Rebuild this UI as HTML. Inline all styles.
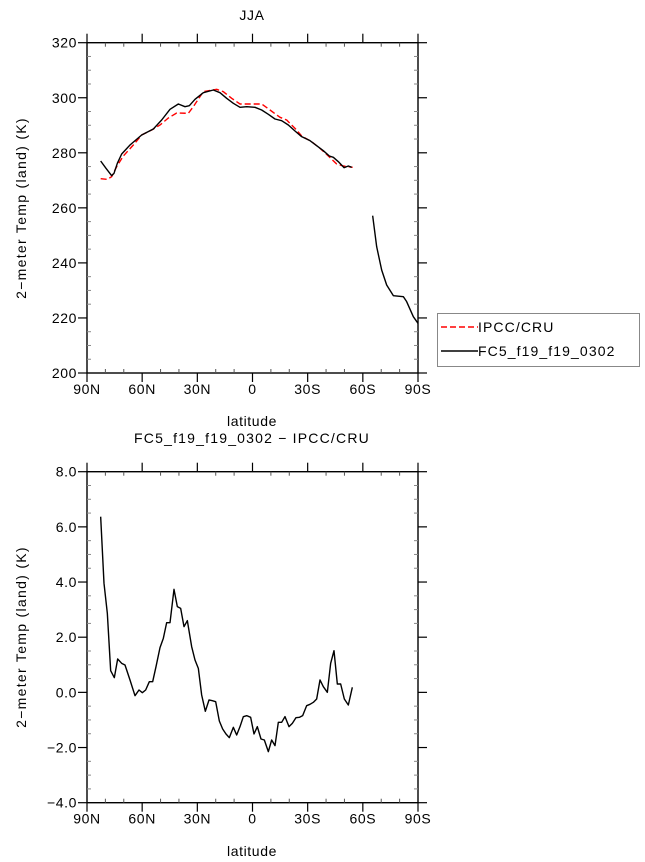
<!DOCTYPE html>
<html><head><meta charset="utf-8"><style>
body{margin:0;background:#fff}
svg{display:block}
text{font-family:"Liberation Sans",sans-serif;font-size:14px;fill:#000;letter-spacing:0.6px}
</style></head><body>
<svg id="s" width="645" height="862" xmlns="http://www.w3.org/2000/svg">
<text x="252" y="20" text-anchor="middle" font-size="16">JJA</text>
<text x="252" y="443" text-anchor="middle" font-size="16" style="letter-spacing:1.2px">FC5_f19_f19_0302 − IPCC/CRU</text>
<text x="252" y="426" text-anchor="middle" font-size="15">latitude</text>
<text x="252" y="856" text-anchor="middle" font-size="15">latitude</text>
<text transform="translate(26,208) rotate(-90)" text-anchor="middle" font-size="15" style="letter-spacing:1.3px">2−meter Temp (land) (K)</text>
<text transform="translate(26,637) rotate(-90)" text-anchor="middle" font-size="15" style="letter-spacing:1.3px">2−meter Temp (land) (K)</text>
<g id="ax"></g>
<g transform="translate(80,30) scale(0.33333)" fill="none" stroke-linejoin="round">
<polyline vector-effect="non-scaling-stroke" stroke="#f00" stroke-width="1.4" stroke-dasharray="6,3" points="62,446 82,448 95,440 110,410 130,378 160,345 185,315 215,300 240,285 265,264 290,249 325,250 340,230 370,185 410,178 430,185 455,205 480,222 510,222 545,222 570,240 600,262 620,270 645,295 665,318 695,335 720,355 745,378 770,402 790,408 805,410 818,412"/>
<polyline vector-effect="non-scaling-stroke" stroke="#000" stroke-width="1.4" points="62,393 78,415 95,437 102,430 112,400 125,372 150,345 185,315 220,297 245,270 270,238 295,222 315,230 328,227 345,208 370,188 400,180 420,188 440,205 460,220 480,232 500,230 525,232 545,240 565,253 585,267 605,272 625,285 645,303 665,320 690,332 710,347 730,362 748,378 760,382 775,395 792,413 805,408 815,412"/>
<polyline vector-effect="non-scaling-stroke" stroke="#000" stroke-width="1.4" points="878,557 890,650 905,720 920,765 940,797 970,800 980,815 1000,860 1014,880"/>
</g>
<g transform="translate(80,460) scale(0.33333)" fill="none" stroke-linejoin="round">
<polyline vector-effect="non-scaling-stroke" stroke="#000" stroke-width="1.4" points="62,170 72,370 82,460 92,632 103,653 113,597 125,610 135,615 150,660 165,707 177,690 187,698 197,690 208,665 218,665 228,620 240,563 250,535 260,488 270,488 282,388 292,440 302,445 312,500 322,482 335,560 345,600 355,625 365,705 376,754 387,720 397,722 407,725 418,783 428,807 438,822 448,833 460,802 470,825 480,800 490,770 500,767 512,772 522,822 532,800 543,837 553,840 565,875 575,840 585,857 595,787 605,787 615,770 627,800 637,790 648,773 658,772 668,767 680,737 690,733 700,727 710,717 720,660 730,680 742,697 752,610 762,572 772,672 782,672 793,717 805,735 817,682"/>
</g>
<rect x="437.5" y="313.5" width="202" height="53" fill="none" stroke="#888" stroke-width="1"/>
<line x1="441" y1="327" x2="478" y2="327" stroke="#f00" stroke-width="1.4" stroke-dasharray="6,3"/>
<text x="478" y="332" style="letter-spacing:1.1px">IPCC/CRU</text>
<line x1="441" y1="351" x2="478" y2="351" stroke="#000" stroke-width="1.4"/>
<text x="478" y="356" style="letter-spacing:1.1px">FC5_f19_f19_0302</text>
</svg>
<script>
var g=document.getElementById('ax'),ns='http://www.w3.org/2000/svg';
function L(a,b,c,d,col,w){var e=document.createElementNS(ns,'line');e.setAttribute('x1',a);e.setAttribute('y1',b);e.setAttribute('x2',c);e.setAttribute('y2',d);e.setAttribute('stroke',col||'#000');e.setAttribute('stroke-width',w||1.2);g.appendChild(e);}
function T(x,y,s,anc){var e=document.createElementNS(ns,'text');e.setAttribute('x',x);e.setAttribute('y',y);e.setAttribute('text-anchor',anc);e.setAttribute('font-size','15');e.textContent=s;g.appendChild(e);}
var X0=87,X1=418,xl=['90N','60N','30N','0','30S','60S','90S'];
function panel(y0,y1,labs){
  var r=document.createElementNS(ns,'rect');r.setAttribute('x',X0);r.setAttribute('y',y0);r.setAttribute('width',X1-X0);r.setAttribute('height',y1-y0);r.setAttribute('fill','none');r.setAttribute('stroke','#000');r.setAttribute('stroke-width',1.4);g.appendChild(r);
  for(var i=0;i<=18;i++){var x=X0+(X1-X0)*i/18;
    if(i%3==0){L(x,y0,x,y0-9);L(x,y1,x,y1+9);T(x,y1+21,xl[i/3],'middle');}
    else{L(x,y0,x,y0+4,'#555',1);L(x,y1,x,y1-4,'#555',1);}}
  var n=labs.length-1;
  for(var j=0;j<=n*4;j++){var y=y1-(y1-y0)*j/(n*4);
    if(j%4==0){L(X0,y,X0-9,y);L(X1,y,X1+9,y);T(X0-10,y+5,labs[j/4],'end');}
    else{L(X0,y,X0+4,y,'#888',1);L(X1,y,X1-4,y,'#888',1);}}
}
panel(42.7,373,['200','220','240','260','280','300','320']);
panel(471.7,802.7,['−4.0','−2.0','0.0','2.0','4.0','6.0','8.0']);
</script>
</body></html>
